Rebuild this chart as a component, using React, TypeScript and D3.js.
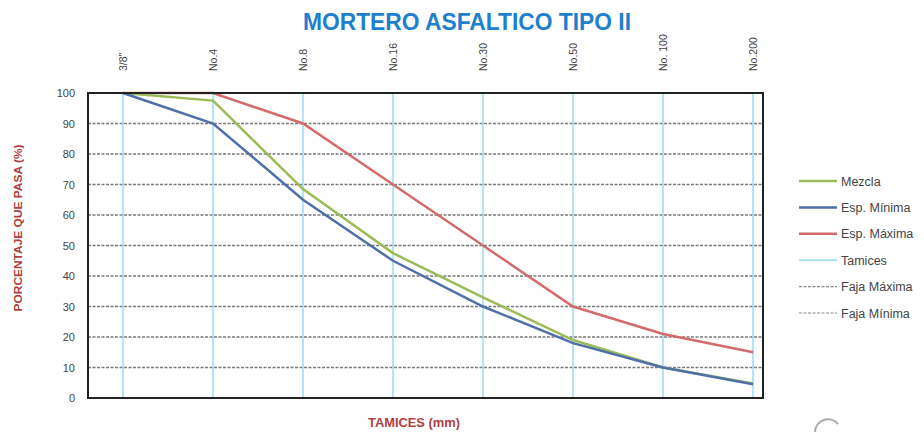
import React from "react";
import * as d3 from "d3";

const sieves = ['3/8"', "No.4", "No.8", "No.16", "No.30", "No.50", "No. 100", "No.200"];
const mezcla = [100, 97.5, 68.5, 47.5, 33, 19, 10, 4.8];
const espMinima = [100, 90, 65, 45, 30, 18, 10, 4.5];
const espMaxima = [100, 100, 90, 70, 50, 30, 21, 15];
const yTicks = [0, 10, 20, 30, 40, 50, 60, 70, 80, 90, 100];
const gridValues = [10, 20, 30, 40, 50, 60, 70, 80, 90];

const legendItems = [
  { label: "Mezcla", color: "#9bbb59", dash: "", width: 2.5 },
  { label: "Esp. Mínima", color: "#4f6fa8", dash: "", width: 2.5 },
  { label: "Esp. Máxima", color: "#d46b6b", dash: "", width: 2.5 },
  { label: "Tamices", color: "#7fd3ef", dash: "", width: 1.2 },
  { label: "Faja Máxima", color: "#888", dash: "3 1.5", width: 1.2 },
  { label: "Faja Mínima", color: "#888", dash: "3 1.5", width: 1.2 },
];

const narrow = "'Liberation Sans Narrow', 'Arial Narrow', 'Liberation Sans', Arial, sans-serif";

export default function App() {
  const left = 88, right = 763, top = 93, bottom = 398;
  const x = d3.scaleLinear().domain([0, 7]).range([123, 753]);
  const y = d3.scaleLinear().domain([0, 100]).range([bottom, top]);
  const line = d3.line<number>().x((_, i) => x(i)).y((d) => y(d));

  return (
    <svg width={924} height={432} style={{ position: "absolute", left: 0, top: 0, background: "#fff" }}>
      <text x={467} y={30} textAnchor="middle" fontFamily={narrow} fontWeight="bold" fontSize={24}
        fill="#1f7fcf" textLength={328} lengthAdjust="spacingAndGlyphs">MORTERO ASFALTICO TIPO II</text>

      {gridValues.map((v) => (
        <line key={"g" + v} x1={left} x2={right} y1={y(v)} y2={y(v)} stroke="#7a7a7a" strokeWidth={1.3} strokeDasharray="3 1.5" />
      ))}
      {sieves.map((s, i) => (
        <line key={"t" + i} x1={x(i)} x2={x(i)} y1={top} y2={bottom} stroke="#7fd3ef" strokeWidth={1.2} />
      ))}
      {sieves.map((s, i) => (
        <text key={"l" + i} transform={`translate(${x(i) + 3.5},71) rotate(-90)`} fontFamily={narrow}
          fontSize={10.5} fill="#444">{s}</text>
      ))}

      <path d={line(espMaxima) || ""} fill="none" stroke="#d46b6b" strokeWidth={2.5} />
      <path d={line(mezcla) || ""} fill="none" stroke="#9bbb59" strokeWidth={2.5} />
      <path d={line(espMinima) || ""} fill="none" stroke="#4f6fa8" strokeWidth={2.5} />

      <rect x={left} y={top} width={right - left} height={bottom - top} fill="none" stroke="#222" strokeWidth={2} />

      {yTicks.map((v) => (
        <text key={"y" + v} x={75} y={y(v) + 4} textAnchor="end" fontFamily="'Liberation Sans', Arial, sans-serif"
          fontSize={11} fill="#444">{v}</text>
      ))}

      <text transform="translate(22,228) rotate(-90)" textAnchor="middle" fontFamily={narrow} fontWeight="bold"
        fontSize={11.5} fill="#b04040" textLength={167} lengthAdjust="spacingAndGlyphs">PORCENTAJE QUE PASA (%)</text>
      <text x={414} y={427} textAnchor="middle" fontFamily={narrow} fontWeight="bold" fontSize={12.5}
        fill="#b04040" textLength={92} lengthAdjust="spacingAndGlyphs">TAMICES (mm)</text>

      {legendItems.map((it, i) => {
        const ly = 181 + i * 26.4;
        return (
          <g key={"lg" + i}>
            <line x1={799} x2={837} y1={ly} y2={ly} stroke={it.color} strokeWidth={it.width} strokeDasharray={it.dash} />
            <text x={841} y={ly + 4.5} fontFamily="'Liberation Sans', Arial, sans-serif" fontSize={12.5} fill="#444">{it.label}</text>
          </g>
        );
      })}

      <path d="M 815 432 A 13 13 0 0 1 838 424" fill="none" stroke="#aaa" strokeWidth={2} />
    </svg>
  );
}
